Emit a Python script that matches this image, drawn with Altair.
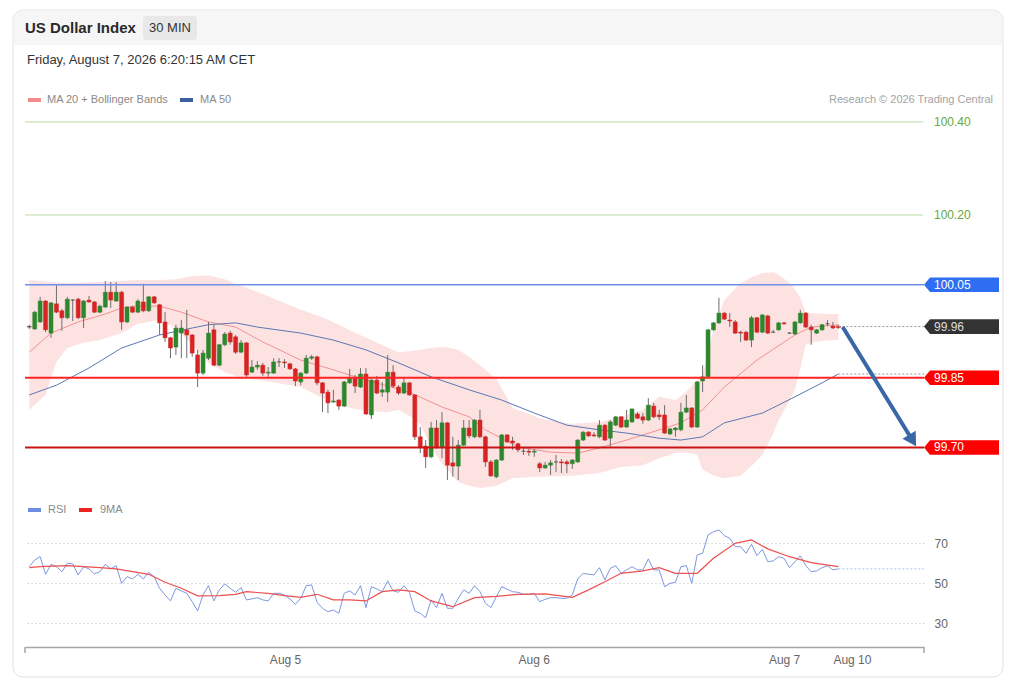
import altair as alt
import numpy as np
import pandas as pd

# ---------------- data ----------------
opens = [
    99.959, 99.955, 99.970, 100.015, 99.946, 100.009, 99.994, 99.979, 100.017, 100.019,
    99.979, 100.017, 100.013, 99.991, 100.002, 100.034, 100.015, 100.034, 99.970, 100.002,
    99.991, 100.013, 99.994, 100.024, 100.007, 99.970, 99.936, 99.916, 99.946, 99.953,
    99.942, 99.899, 99.860, 99.892, 99.953, 99.877, 99.921, 99.946, 99.938, 99.905,
    99.925, 99.862, 99.873, 99.877, 99.860, 99.860, 99.884, 99.884, 99.880, 99.869,
    99.841, 99.860, 99.892, 99.895, 99.839, 99.819, 99.798, 99.802, 99.789, 99.839,
    99.849, 99.830, 99.858, 99.770, 99.845, 99.819, 99.819, 99.862, 99.830, 99.817,
    99.839, 99.813, 99.723, 99.703, 99.680, 99.742, 99.701, 99.753, 99.667, 99.660,
    99.705, 99.742, 99.723, 99.759, 99.723, 99.669, 99.637, 99.673, 99.727, 99.714,
    99.708, 99.692, 99.692, 99.690, 99.665, 99.656, 99.662, 99.669, 99.669, 99.669,
    99.665, 99.669, 99.716, 99.733, 99.727, 99.723, 99.748, 99.720, 99.748, 99.766,
    99.744, 99.755, 99.772, 99.766, 99.759, 99.789, 99.770, 99.770, 99.729, 99.738,
    99.738, 99.776, 99.785, 99.744, 99.843, 99.852, 99.953, 99.968, 99.989, 99.974,
    99.970, 99.948, 99.948, 99.931, 99.979, 99.948, 99.983, 99.948, 99.953, 99.968,
    99.946, 99.944, 99.968, 99.989, 99.959, 99.946, 99.953, 99.966, 99.961, 99.961,
]
highs = [
    99.964, 99.994, 100.024, 100.017, 100.013, 100.049, 99.998, 100.024, 100.019, 100.022,
    100.017, 100.026, 100.015, 100.007, 100.058, 100.056, 100.056, 100.037, 100.004, 100.004,
    100.019, 100.052, 100.026, 100.026, 100.009, 99.991, 99.938, 99.964, 99.974, 99.996,
    99.944, 99.910, 99.910, 99.970, 99.964, 99.923, 99.948, 99.951, 99.942, 99.931,
    99.927, 99.888, 99.886, 99.882, 99.873, 99.892, 99.892, 99.890, 99.882, 99.871,
    99.862, 99.899, 99.899, 99.897, 99.841, 99.824, 99.824, 99.804, 99.843, 99.869,
    99.856, 99.871, 99.871, 99.847, 99.854, 99.841, 99.899, 99.877, 99.834, 99.852,
    99.841, 99.815, 99.744, 99.716, 99.755, 99.759, 99.776, 99.755, 99.723, 99.716,
    99.759, 99.759, 99.761, 99.781, 99.725, 99.673, 99.675, 99.729, 99.729, 99.723,
    99.710, 99.699, 99.697, 99.697, 99.669, 99.669, 99.673, 99.684, 99.675, 99.673,
    99.675, 99.718, 99.735, 99.735, 99.733, 99.759, 99.751, 99.759, 99.768, 99.768,
    99.781, 99.783, 99.776, 99.774, 99.806, 99.796, 99.781, 99.791, 99.742, 99.744,
    99.796, 99.813, 99.787, 99.843, 99.877, 99.955, 99.970, 100.022, 99.991, 99.989,
    99.974, 99.951, 99.951, 99.983, 99.981, 99.987, 99.985, 99.953, 99.970, 99.970,
    99.948, 99.972, 99.996, 99.991, 99.964, 99.955, 99.966, 99.974, 99.970, 99.964,
]
lows = [
    99.955, 99.953, 99.968, 99.948, 99.936, 99.989, 99.951, 99.976, 99.972, 99.976,
    99.957, 100.011, 99.989, 99.989, 100.000, 100.000, 100.013, 99.953, 99.968, 99.989,
    99.989, 99.991, 99.991, 100.009, 99.942, 99.927, 99.892, 99.899, 99.892, 99.892,
    99.895, 99.830, 99.856, 99.888, 99.875, 99.875, 99.918, 99.921, 99.901, 99.903,
    99.852, 99.860, 99.867, 99.854, 99.852, 99.858, 99.873, 99.871, 99.867, 99.832,
    99.834, 99.858, 99.888, 99.834, 99.776, 99.774, 99.796, 99.781, 99.787, 99.837,
    99.817, 99.828, 99.770, 99.761, 99.815, 99.809, 99.798, 99.828, 99.813, 99.815,
    99.811, 99.716, 99.688, 99.656, 99.677, 99.697, 99.677, 99.630, 99.637, 99.630,
    99.703, 99.720, 99.720, 99.720, 99.658, 99.637, 99.634, 99.671, 99.710, 99.695,
    99.690, 99.684, 99.682, 99.680, 99.647, 99.654, 99.641, 99.647, 99.645, 99.645,
    99.654, 99.667, 99.714, 99.723, 99.723, 99.720, 99.714, 99.699, 99.746, 99.742,
    99.742, 99.753, 99.761, 99.751, 99.757, 99.763, 99.759, 99.729, 99.727, 99.723,
    99.735, 99.774, 99.742, 99.742, 99.819, 99.849, 99.951, 99.966, 99.974, 99.959,
    99.944, 99.927, 99.929, 99.916, 99.946, 99.946, 99.944, 99.946, 99.951, 99.964,
    99.944, 99.942, 99.966, 99.957, 99.921, 99.944, 99.951, 99.961, 99.955, 99.955,
]
closes = [
    99.960, 99.991, 100.015, 99.953, 100.011, 99.991, 99.979, 100.019, 100.017, 99.979,
    100.015, 100.013, 99.991, 100.004, 100.034, 100.017, 100.034, 99.970, 100.002, 99.991,
    100.015, 99.994, 100.024, 100.011, 99.968, 99.936, 99.914, 99.957, 99.957, 99.942,
    99.903, 99.860, 99.903, 99.946, 99.877, 99.921, 99.944, 99.927, 99.905, 99.925,
    99.856, 99.873, 99.877, 99.860, 99.862, 99.884, 99.884, 99.882, 99.869, 99.843,
    99.860, 99.892, 99.895, 99.839, 99.817, 99.796, 99.800, 99.789, 99.841, 99.849,
    99.832, 99.858, 99.772, 99.845, 99.817, 99.824, 99.862, 99.832, 99.817, 99.839,
    99.813, 99.723, 99.701, 99.680, 99.742, 99.701, 99.753, 99.662, 99.660, 99.705,
    99.742, 99.725, 99.759, 99.723, 99.669, 99.639, 99.673, 99.727, 99.712, 99.710,
    99.695, 99.692, 99.690, 99.692, 99.656, 99.662, 99.667, 99.669, 99.667, 99.665,
    99.673, 99.716, 99.733, 99.725, 99.725, 99.748, 99.716, 99.755, 99.766, 99.744,
    99.759, 99.783, 99.763, 99.759, 99.791, 99.766, 99.766, 99.731, 99.740, 99.742,
    99.776, 99.785, 99.744, 99.841, 99.852, 99.953, 99.968, 99.989, 99.976, 99.972,
    99.946, 99.946, 99.931, 99.979, 99.948, 99.985, 99.946, 99.948, 99.968, 99.966,
    99.946, 99.970, 99.989, 99.959, 99.953, 99.953, 99.964, 99.966, 99.957, 99.958,
]

ma20_idx = [0, 4, 9, 14, 17, 19, 24, 28, 33, 38, 43, 50, 56, 62, 70, 76, 81, 84, 90, 96,
            101, 105, 110, 116, 120, 124, 128, 134, 141, 144, 149]
ma20_val = [99.905, 99.946, 99.970, 99.987, 100.000, 100.004, 100.004, 99.991, 99.970, 99.959,
            99.927, 99.888, 99.867, 99.845, 99.819, 99.787, 99.766, 99.738, 99.701, 99.690,
            99.688, 99.699, 99.716, 99.738, 99.753, 99.781, 99.830, 99.888, 99.942, 99.959,
            99.964]

bb_idx = [0, 3, 5, 7, 10, 13, 17, 20, 24, 27, 30, 33, 36, 38, 41, 44, 47, 50, 54, 57,
          60, 63, 66, 68, 70, 72, 74, 76, 77, 79, 81, 83, 86, 89, 92, 94, 97, 100, 103, 105,
          109, 113, 116, 119, 121, 123, 124, 126, 128, 131, 133, 135, 137, 138, 140, 141,
          142, 143, 145, 147, 149]
bb_upper = [100.060, 100.057, 100.055, 100.054, 100.055, 100.056, 100.058, 100.060, 100.060, 100.062,
            100.069, 100.070, 100.062, 100.052, 100.039, 100.025, 100.011, 99.996, 99.980, 99.964,
            99.947, 99.931, 99.915, 99.905, 99.907, 99.910, 99.914, 99.916, 99.915, 99.910,
            99.895, 99.877, 99.848, 99.785, 99.772, 99.763, 99.756, 99.751, 99.753, 99.755,
            99.766, 99.781, 99.809, 99.802, 99.820, 99.845, 99.856, 99.953, 100.017, 100.054,
            100.066, 100.075, 100.077, 100.072, 100.054, 100.040, 100.022, 99.991, 99.988, 99.987,
            99.987]
bb_lower = [99.781, 99.813, 99.884, 99.914, 99.925, 99.931, 99.946, 99.966, 99.974, 99.957,
            99.921, 99.882, 99.862, 99.854, 99.847, 99.842, 99.836, 99.830, 99.806, 99.793,
            99.783, 99.778, 99.776, 99.781, 99.768, 99.750, 99.701, 99.665, 99.652, 99.626,
            99.618, 99.613, 99.617, 99.634, 99.636, 99.637, 99.638, 99.639, 99.643, 99.645,
            99.658, 99.662, 99.677, 99.688, 99.689, 99.685, 99.652, 99.640, 99.634, 99.639,
            99.660, 99.684, 99.730, 99.759, 99.800, 99.824, 99.870, 99.921, 99.928, 99.930,
            99.931]

ma50_idx = [0, 5, 11, 17, 24, 30, 33, 38, 42, 50, 56, 62, 68, 74, 81, 87, 93, 99, 105, 110,
            116, 120, 124, 128, 135, 141, 146, 149]
ma50_val = [99.813, 99.834, 99.871, 99.914, 99.942, 99.957, 99.964, 99.968, 99.959, 99.946,
            99.931, 99.910, 99.882, 99.852, 99.824, 99.802, 99.774, 99.748, 99.738, 99.731,
            99.720, 99.716, 99.723, 99.753, 99.774, 99.809, 99.839, 99.858]

rsi = [
    58.3, 61.7, 63.3, 54.5, 59.5, 58.3, 55.8, 60.0, 59.7, 54.2,
    58.3, 57.2, 54.7, 55.8, 59.5, 57.2, 58.8, 50.0, 53.3, 52.2,
    54.5, 52.2, 55.5, 53.3, 47.5, 44.2, 41.2, 47.5, 46.2, 45.0,
    40.8, 36.2, 44.2, 48.8, 41.2, 46.7, 49.7, 47.5, 45.5, 47.8,
    41.7, 42.2, 42.8, 41.7, 41.2, 45.0, 45.0, 44.2, 42.2, 39.5,
    42.5, 48.8, 49.2, 40.5, 37.5, 35.8, 36.7, 35.0, 45.0, 46.2,
    44.2, 48.8, 37.8, 48.3, 47.2, 45.8, 51.2, 46.2, 45.5, 48.8,
    45.5, 36.2, 35.0, 32.8, 41.7, 37.8, 45.0, 37.5, 37.5, 42.5,
    46.7, 45.0, 48.8, 45.8, 40.0, 37.8, 43.3, 48.3, 47.0, 45.8,
    45.5, 44.5, 44.5, 45.0, 40.8, 42.0, 42.8, 42.8, 42.5, 42.5,
    44.2, 52.2, 55.0, 54.5, 54.2, 57.8, 51.7, 57.5, 58.8, 55.0,
    56.7, 58.3, 56.7, 56.7, 62.2, 56.7, 56.7, 48.3, 50.0, 50.5,
    58.3, 58.8, 50.0, 64.2, 65.0, 74.2, 75.8, 76.7, 73.8, 72.5,
    68.3, 68.3, 65.0, 69.5, 63.8, 67.0, 60.8, 61.2, 63.3, 62.5,
    57.8, 60.8, 63.7, 58.8, 55.8, 56.2, 57.8, 58.8, 56.7, 57.2,
]
ma9_idx = [0, 2, 7, 13, 16, 19, 22, 25, 28, 31, 35, 38, 40, 44, 47, 50, 53, 56, 59, 62,
           65, 68, 71, 74, 78, 82, 86, 90, 95, 100, 103, 106, 109, 113, 116, 119, 123, 126,
           130, 133, 136, 140, 144, 149]
ma9_val = [57.8, 58.3, 58.8, 57.8, 57.2, 55.8, 54.5, 50.5, 47.5, 43.7, 43.8, 44.5, 45.8, 45.0,
           43.8, 43.0, 44.5, 41.7, 41.7, 41.2, 45.8, 46.7, 45.8, 41.2, 38.3, 42.8, 43.5, 44.5,
           44.7, 43.0, 46.7, 50.8, 55.0, 56.2, 57.8, 55.0, 55.0, 62.5, 70.0, 71.7, 67.2, 63.3,
           60.3, 58.3]

date_tick_idx = [47.1, 92.9, 139.0, 151.5]
date_tick_labels = ["Aug 5", "Aug 6", "Aug 7", "Aug 10"]
rsi_ticks = [30, 50, 70]

green_levels = [100.40, 100.20]
line_levels = [100.05, 99.85, 99.70]
line_colors = ["#6f8fe8", "#ff2424", "#c81414"]
line_widths = [1.5, 2.0, 2.0]
box_levels = [100.05, 99.96, 99.85, 99.70]
box_fills = ["#2f6ef2", "#333333", "#ff0000", "#ff0000"]
box_text_colors = ["#ffffff", "#dcdcdc", "#ffffff", "#ffffff"]
last_price = 99.96

arrow_idx = [149.8, 162.67]
arrow_price = [99.959, 99.715]

# ---------------- layout constants ----------------
X_DOMAIN = [-0.79, 164.77]
P_DOMAIN = [99.6043, 100.4258]
R_DOMAIN = [18.15, 81.65]
W = 899
H_TOP = 382
H_BOT = 127
FONT = "Liberation Sans"
GREEN = "#2d872d"
RED = "#d72323"

xs = alt.Scale(domain=X_DOMAIN, nice=False, zero=False, padding=0)
ys = alt.Scale(domain=P_DOMAIN, nice=False, zero=False, padding=0)
rs = alt.Scale(domain=R_DOMAIN, nice=False, zero=False, padding=0)
one = pd.DataFrame({"a": [0]})


def px_rect(x, x2, y, y2, **kw):
    return alt.Chart(one).mark_rect(**kw).encode(
        x=alt.value(x), x2=alt.value(x2), y=alt.value(y), y2=alt.value(y2))


def px_text(x, y, txt, **kw):
    kw.setdefault("align", "left")
    kw.setdefault("baseline", "middle")
    return alt.Chart(one).mark_text(text=txt, font=FONT, **kw).encode(
        x=alt.value(x), y=alt.value(y))


N = len(closes)
cdf = pd.DataFrame({"i": np.arange(N), "open": opens, "high": highs, "low": lows, "close": closes})
diff = cdf["close"] - cdf["open"]
cdf["dir"] = np.where(diff > 0.0015, "up", np.where(diff < -0.0015, "down", "flat"))
dir_scale = alt.Scale(domain=["up", "down", "flat"], range=[GREEN, RED, "#444444"])

X = lambda f="i:Q": alt.X(f, scale=xs, axis=None)
Y = lambda f: alt.Y(f, scale=ys, axis=None)

# ---------------- header / frame ----------------
frame = [
    px_rect(-12, 978, -100, 567, fill="white", stroke="#e3e3e3", strokeWidth=1, cornerRadius=10),
    px_rect(-11.5, 977.5, -99.5, -65, fill="#f6f6f6", cornerRadiusTopLeft=10, cornerRadiusTopRight=10),
    px_text(0, -82, "US Dollar Index", fontSize=15, fontWeight="bold", color="#2a2a2a"),
    px_rect(118, 172, -94, -70, fill="#e8e8e8", cornerRadius=3),
    px_text(145, -82, "30 MIN", align="center", fontSize=13, color="#333333"),
    px_text(2, -50, "Friday, August 7, 2026 6:20:15 AM CET", fontSize=13, color="#333333"),
    px_rect(3, 16, -12, -8, fill="#f58a8a"),
    px_text(22, -10, "MA 20 + Bollinger Bands", fontSize=11, color="#8a8a8a"),
    px_rect(155, 168, -12, -8, fill="#3c5f9e"),
    px_text(175, -10, "MA 50", fontSize=11, color="#8a8a8a"),
    px_text(968, -10, "Research \u00a9 2026 Trading Central", align="right", fontSize=11, color="#a3a3a3"),
]

# ---------------- price panel ----------------
bb_df = pd.DataFrame({"i": bb_idx, "upper": bb_upper, "lower": bb_lower})
band = alt.Chart(bb_df).mark_area(color="#fde2e2").encode(x=X(), y=Y("upper:Q"), y2="lower:Q")
ma20 = alt.Chart(pd.DataFrame({"i": ma20_idx, "v": ma20_val})).mark_line(
    color="#f29191", strokeWidth=1).encode(x=X(), y=Y("v:Q"))
ma50 = alt.Chart(pd.DataFrame({"i": ma50_idx, "v": ma50_val})).mark_line(
    color="#5a78b4", strokeWidth=1).encode(x=X(), y=Y("v:Q"))
wicks = alt.Chart(cdf).mark_rule(color="#6e6e6e", strokeWidth=1).encode(
    x=X(), y=Y("low:Q"), y2="high:Q")
bodies = alt.Chart(cdf).mark_bar(size=4, strokeWidth=0.5).encode(
    x=X(), y=Y("open:Q"), y2="close:Q",
    color=alt.Color("dir:N", scale=dir_scale, legend=None),
    stroke=alt.Stroke("dir:N", scale=dir_scale, legend=None))

green_df = pd.DataFrame({"price": green_levels})
green_rules = alt.Chart(green_df).mark_rule(color="#b9dca3", strokeWidth=1).encode(
    y=Y("price:Q"), x=alt.value(0), x2=alt.value(898))
green_text = alt.Chart(green_df).mark_text(
    align="left", baseline="middle", fontSize=12, color="#66a83a", font=FONT).encode(
    y=Y("price:Q"), x=alt.value(909), text=alt.Text("price:Q", format=".2f"))

line_df = pd.DataFrame({"price": line_levels, "c": line_colors, "w": line_widths})
level_rules = alt.Chart(line_df).mark_rule().encode(
    y=Y("price:Q"), x=alt.value(0), x2=alt.value(899),
    color=alt.Color("c:N", scale=None), strokeWidth=alt.StrokeWidth("w:Q", scale=None))

ext_df = pd.DataFrame({"x0": [N - 1, ma50_idx[-1]], "x1": [X_DOMAIN[1], X_DOMAIN[1]],
                       "y": [last_price, ma50_val[-1]]})
ext_rules = alt.Chart(ext_df).mark_rule(color="#9a9a9a", strokeDash=[2, 2], strokeWidth=1).encode(
    x=X("x0:Q"), x2="x1:Q", y=Y("y:Q"))

BOX_PATH = "M-1,0L-0.84,-0.195L1,-0.195L1,0.195L-0.84,0.195Z"
box_df = pd.DataFrame({"price": box_levels, "fill": box_fills, "tc": box_text_colors})
boxes = alt.Chart(box_df).mark_point(shape=BOX_PATH, size=5625, filled=True, opacity=1,
                                     strokeWidth=0).encode(
    y=Y("price:Q"), x=alt.value(936.5), color=alt.Color("fill:N", scale=None))
box_text = alt.Chart(box_df).mark_text(align="left", baseline="middle", fontSize=12, font=FONT).encode(
    y=Y("price:Q"), x=alt.value(909), text=alt.Text("price:Q", format=".2f"),
    color=alt.Color("tc:N", scale=None))

arrow_df = pd.DataFrame({"i": arrow_idx, "p": arrow_price})
arrow_line = alt.Chart(arrow_df).mark_line(color="#3866a6", strokeWidth=4).encode(
    x=X(), y=Y("p:Q"))
arrow_head = alt.Chart(arrow_df.tail(1)).mark_point(
    shape="triangle-down", filled=True, size=240, angle=328.5, color="#3866a6",
    opacity=1, strokeWidth=0).encode(x=X(), y=Y("p:Q"))

top = alt.layer(*frame, band, ma20, ma50, wicks, bodies, green_rules, green_text,
                level_rules, ext_rules, boxes, box_text, arrow_line, arrow_head).properties(
    width=W, height=H_TOP)

# ---------------- RSI panel ----------------
label_expr = " : ".join(
    f"abs(datum.value - {v}) < 0.01 ? '{t}'" for v, t in zip(date_tick_idx, date_tick_labels)
) + " : ''"
x_axis = alt.Axis(values=date_tick_idx, labelExpr=label_expr, grid=False, ticks=False,
                  domain=True, domainColor="#a6a6a6", domainWidth=1.5, labelColor="#666666",
                  labelFontSize=12, labelFont=FONT, labelPadding=7, labelFlush=False, title=None)
y_axis = alt.Axis(orient="right", values=rsi_ticks, grid=True, gridColor="#bdbdbd",
                  gridDash=[1, 3], gridWidth=1, domain=False, ticks=False, tickSize=0,
                  labelPadding=10, labelColor="#666666", labelFontSize=12, labelFont=FONT,
                  title=None)

rsi_df = pd.DataFrame({"i": np.arange(N), "rsi": rsi})
rsi_line = alt.Chart(rsi_df).mark_line(color="#7d98e2", strokeWidth=1).encode(
    x=alt.X("i:Q", scale=xs, axis=x_axis), y=alt.Y("rsi:Q", scale=rs, axis=y_axis))
ma9_line = alt.Chart(pd.DataFrame({"i": ma9_idx, "v": ma9_val})).mark_line(
    color="#ec5050", strokeWidth=1.2).encode(
    x=alt.X("i:Q", scale=xs), y=alt.Y("v:Q", scale=rs))
rsi_ext = alt.Chart(pd.DataFrame({"x0": [N - 1], "x1": [X_DOMAIN[1]], "y": [rsi[-1]]})).mark_rule(
    color="#a8bbef", strokeDash=[2, 2], strokeWidth=1).encode(
    x=alt.X("x0:Q", scale=xs), x2="x1:Q", y=alt.Y("y:Q", scale=rs))
end_ticks = [
    alt.Chart(one).mark_rule(color="#a6a6a6", strokeWidth=1.5).encode(
        x=alt.value(xv), y=alt.value(H_BOT), y2=alt.value(H_BOT + 6))
    for xv in (0, W)
]
rsi_legend = [
    px_rect(3, 16, -12, -8, fill="#6d8fe3"),
    px_text(23, -10, "RSI", fontSize=11, color="#8a8a8a"),
    px_rect(54, 67, -12, -8, fill="#ee2222"),
    px_text(75, -10, "9MA", fontSize=11, color="#8a8a8a"),
]

bottom = alt.layer(rsi_line, ma9_line, rsi_ext, *end_ticks, *rsi_legend).properties(
    width=W, height=H_BOT)

chart = alt.vconcat(top, bottom, spacing=28, bounds="flush").properties(
    padding={"left": 4, "top": 1, "right": 5, "bottom": 5}
).configure(font=FONT, background="white").configure_view(strokeWidth=0)

chart.save("out.html", embed_options={"renderer": "svg", "actions": False})
